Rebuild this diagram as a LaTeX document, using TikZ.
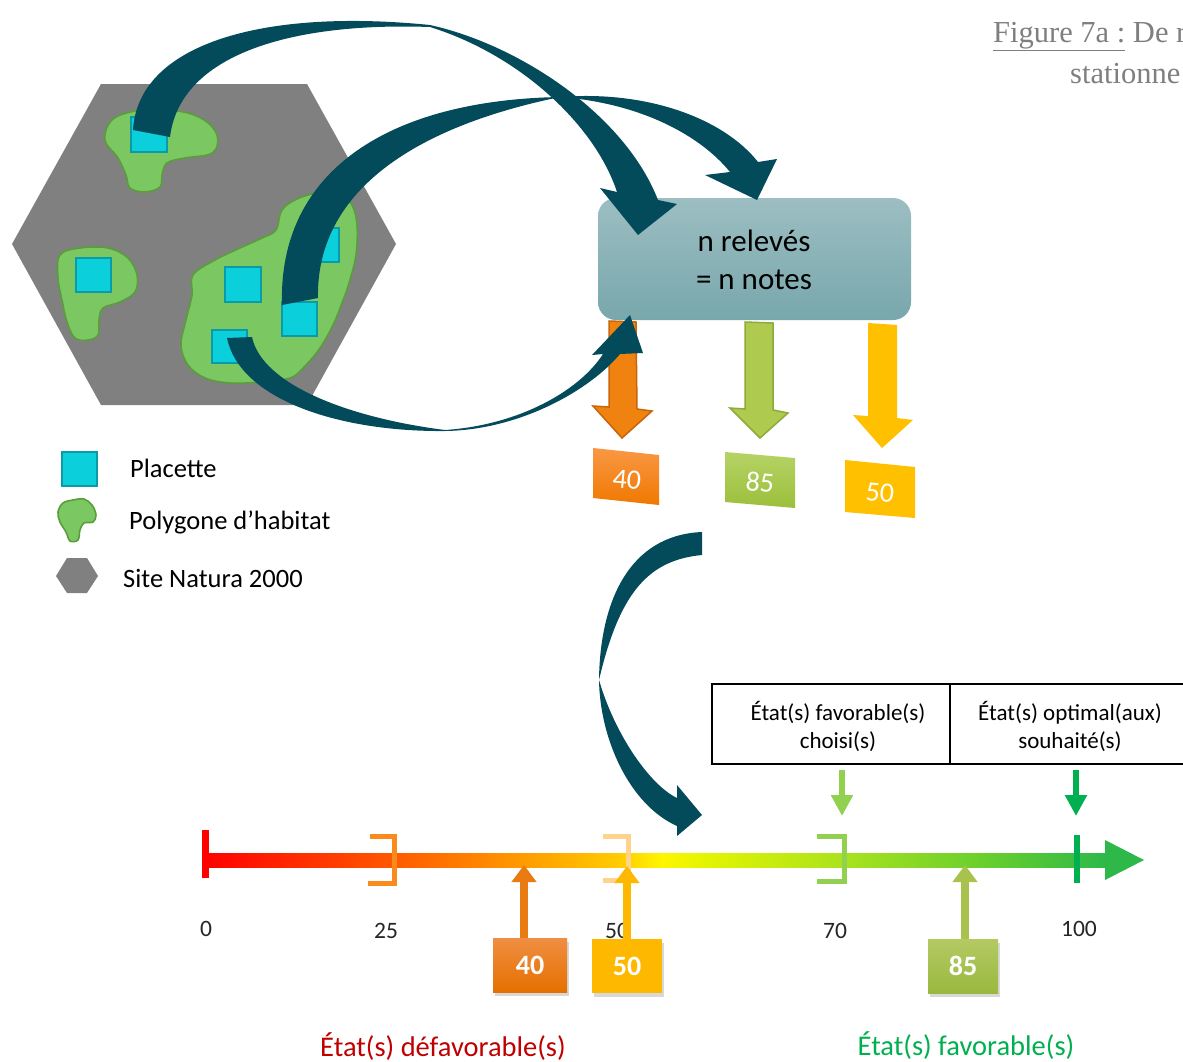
\documentclass[tikz,border=0pt]{standalone}
\usepackage{fontspec}
\setmainfont{Carlito}
\newfontfamily\titlefont{Liberation Serif}
\usetikzlibrary{arrows.meta,shadows}
\newcommand\myfs[1]{\fontsize{#1}{#1}\selectfont}
\definecolor{hexgrey}{HTML}{808080}
\definecolor{blobfill}{HTML}{7BC862}
\definecolor{blobline}{HTML}{5A9E3C}
\definecolor{sqfill}{HTML}{0BCFDA}
\definecolor{sqline}{HTML}{0A9BA8}
\definecolor{tealarrow}{HTML}{034B5A}
\definecolor{boxtop}{HTML}{9CBEC2}
\definecolor{boxbot}{HTML}{78A7AC}
\definecolor{orgA}{HTML}{F0820F}
\definecolor{orgB}{HTML}{C8650A}
\definecolor{grnA}{HTML}{AECB4F}
\definecolor{grnB}{HTML}{8FAA3A}
\definecolor{yelA}{HTML}{FFC000}
\definecolor{v40top}{HTML}{F99845}
\definecolor{v40bot}{HTML}{F07800}
\definecolor{v85top}{HTML}{B5D366}
\definecolor{v85bot}{HTML}{9CBF3B}
\definecolor{sc0}{HTML}{FF0000}
\definecolor{sc1}{HTML}{FF5500}
\definecolor{sc2}{HTML}{FF9A00}
\definecolor{sc3}{HTML}{FFCC00}
\definecolor{sc4}{HTML}{FFF500}
\definecolor{sc5}{HTML}{E5F500}
\definecolor{sc6}{HTML}{A8E21E}
\definecolor{sc7}{HTML}{60CC30}
\definecolor{sc8}{HTML}{2EB84A}
\definecolor{brk25}{HTML}{FA8A1E}
\definecolor{brk50}{HTML}{FFD38C}
\definecolor{brk70}{HTML}{92D050}
\definecolor{tick100}{HTML}{00B050}
\definecolor{b40top}{HTML}{F08E42}
\definecolor{b40bot}{HTML}{E57000}
\definecolor{b50}{HTML}{FFB800}
\definecolor{b85top}{HTML}{B3CA63}
\definecolor{b85bot}{HTML}{9AB83F}
\definecolor{up40}{HTML}{E87B12}
\definecolor{up50}{HTML}{FFB800}
\definecolor{up85}{HTML}{A9C24E}
\definecolor{lightgrn}{HTML}{92D050}
\definecolor{darkgrn}{HTML}{00B050}
\definecolor{badred}{HTML}{C00000}
\definecolor{titlegrey}{HTML}{7F7F7F}
\definecolor{numgrey}{HTML}{262626}
\pgfdeclarehorizontalshading{scalebar}{100bp}{color(0bp)=(sc0); color(25bp)=(sc0); color(35bp)=(sc1); color(42.5bp)=(sc2); color(48bp)=(sc3); color(50.3bp)=(sc4); color(52.5bp)=(sc5); color(60.6bp)=(sc6); color(69.2bp)=(sc7); color(75bp)=(sc8); color(100bp)=(sc8)}
\begin{document}
\begin{tikzpicture}[x=1pt,y=-1pt,
  sq/.style={fill=sqfill,draw=sqline,line width=1.3},
  blob/.style={fill=blobfill,draw=blobline,line width=1.6},
  tealshape/.style={fill=tealarrow},
  txt/.style={inner sep=0,anchor=base},
  ctxt/.style={inner sep=0,anchor=center},
  valbox/.style={inner sep=0,minimum height=54,text=white,font=\myfs{28}\bfseries,
     drop shadow={shadow xshift=2pt,shadow yshift=-4pt,opacity=0.3}},
  cell/.style={draw=black,line width=2,minimum height=80,inner sep=0},
  bracket/.style={line width=5},
  uparrow/.style={line width=8,-{Triangle[width=24pt,length=17pt]}},
  smalldown/.style={line width=6,-{Triangle[width=21pt,length=21pt]}}]
\useasboundingbox (0,0) rectangle (1183,1061);
\fill[white] (0,0) rectangle (1183,1061);

% title (clipped at the right edge)
\node[txt,anchor=base west,text=titlegrey,font=\titlefont\myfs{30.5}] (title1) at (993,42) {\underline{Figure 7a :} De r};
\node[txt,anchor=base west,text=titlegrey,font=\titlefont\myfs{30.5}] (title2) at (1070,83) {stationne};

% site hexagon
\fill[hexgrey] (101,84) -- (307,84) -- (396,244) -- (307,405) -- (101,405) -- (12,244) -- cycle;
% habitat polygons
\draw[blob] plot[smooth cycle,tension=0.6] coordinates {(105,140) (112,120) (135,111) (162,110) (188,113) (207,122) (217,135) (216,149) (207,155) (185,158) (167,163) (162,175) (160,187) (145,192) (130,188) (126,175) (118,158)};
\draw[blob] plot[smooth cycle,tension=0.6] coordinates {(60,255) (80,248) (108,248) (128,258) (137,275) (135,292) (120,302) (103,308) (99,320) (98,335) (88,340) (75,338) (67,322) (62,300) (58,278)};
\draw[blob] plot[smooth cycle,tension=0.6] coordinates {(193,275) (215,260) (240,248) (262,238) (276,230) (282,210) (297,199) (318,193) (340,194) (352,205) (357,225) (356,255) (349,283) (342,303) (333,325) (320,348) (305,366) (290,378) (260,382) (230,383) (205,378) (188,365) (181,345) (186,320) (192,295)};
% plots
\draw[sq] (131,117) rectangle (167,152);
\draw[sq] (76,258) rectangle (111,292);
\draw[sq] (225,267) rectangle (261,302);
\draw[sq] (282,302) rectangle (317,336);
\draw[sq] (305,228) rectangle (339,262);
\draw[sq] (212,330) rectangle (247,363);

% legend
\draw[sq] (62,452) rectangle (97,486);
\draw[blob] plot[smooth cycle,tension=0.6] coordinates {(63,503) (73,500) (84,499) (92,505) (96,515) (93,522) (84,523) (80,530) (78,540) (70,541) (66,532) (60,522) (58,512)};
\fill[hexgrey] (56,576) -- (67,558) -- (87,558) -- (98,576) -- (87,593) -- (67,593) -- cycle;
\node[txt,anchor=base west,font=\myfs{26.5}] (lg1) at (130,477) {Placette};
\node[txt,anchor=base west,font=\myfs{26.5}] (lg2) at (129,529) {Polygone d’habitat};
\node[txt,anchor=base west,font=\myfs{26.5}] (lg3) at (123,587) {Site Natura 2000};

% n relevés box
\node[rounded corners=18,top color=boxtop,bottom color=boxbot,minimum width=313,minimum height=122,inner sep=0] (relev) at (754.5,259) {};
\node[txt,font=\myfs{31}] (r1) at (754,251) {n relevés};
\node[txt,font=\myfs{31}] (r2) at (754,289) {= n notes};

% down arrows
\filldraw[fill=orgA,draw=orgB,line width=1.5] (609,321) -- (636,322) -- (637,409) -- (652,411) -- (622,438) -- (593,406) -- (609,407) -- cycle;
\filldraw[fill=grnA,draw=grnB,line width=1.5] (745,322) -- (773,323) -- (773,410) -- (788,413) -- (760,438) -- (730,408) -- (745,409) -- cycle;
\fill[yelA] (868,323) -- (897,325) -- (897,418) -- (913,420) -- (882,448) -- (853,415) -- (868,416) -- cycle;

% value cards
\shade[top color=v40top,bottom color=v40bot] (593,448) -- (659,455) -- (659,505) -- (593,498) -- cycle;
\shade[top color=v85top,bottom color=v85bot] (725,452) -- (795,458) -- (795,508) -- (725,502) -- cycle;
\fill[yelA] (845,460) -- (915,467) -- (915,518) -- (845,512) -- cycle;
\node[ctxt,text=white,rotate=-5,font=\myfs{28}] (n40) at (627,480) {40};
\node[ctxt,text=white,rotate=-5,font=\myfs{28}] (n85) at (760,482) {85};
\node[ctxt,text=white,rotate=-5,font=\myfs{28}] (n50) at (880,493) {50};

% curved arrow A
\fill[tealshape] (133,130) .. controls (138,45) and (260,8) .. (430,25)
  .. controls (520,45) and (625,115) .. (658,200)
  -- (677,204) -- (638,235) -- (600,188) -- (617,192)
  .. controls (595,125) and (520,55) .. (430,27)
  .. controls (290,22) and (180,55) .. (170,137) -- cycle;
% curved arrow B
\fill[tealshape] (282,305) .. controls (278,170) and (390,100) .. (560,97)
  .. controls (650,90) and (725,120) .. (758,162)
  -- (777,159) -- (757,200) -- (705,175) -- (730,172)
  .. controls (700,135) and (640,103) .. (560,97)
  .. controls (400,130) and (316,200) .. (318,298) -- cycle;
% curved arrow C
\fill[tealshape] (227,338) .. controls (240,400) and (340,432) .. (445,431)
  .. controls (520,430) and (590,390) .. (620,354)
  -- (643,353) -- (630,315) -- (592,355) -- (603,354)
  .. controls (580,390) and (520,425) .. (445,430)
  .. controls (350,418) and (262,385) .. (252,337) -- cycle;
% curved arrow D
\fill[tealshape] (702,532) .. controls (630,535) and (600,600) .. (599,680)
  .. controls (600,740) and (630,805) .. (677,826)
  -- (677,836) -- (702,815) -- (677,785) -- (677,798)
  .. controls (650,785) and (615,735) .. (599,680)
  .. controls (620,590) and (650,560) .. (702,555) -- cycle;

% table
\node[cell,minimum width=238] (cell1) at (831,724) {};
\node[cell,minimum width=240] (cell2) at (1070,724) {};
\node[txt,font=\myfs{23}] (c1a) at (838,720) {État(s) favorable(s)};
\node[txt,font=\myfs{23}] (c1b) at (838,748) {choisi(s)};
\node[txt,font=\myfs{23}] (c2a) at (1070,720) {État(s) optimal(aux)};
\node[txt,font=\myfs{23}] (c2b) at (1070,748) {souhaité(s)};
\coordinate (d1s) at (842,770);
\coordinate (d1e) at (842,816);
\coordinate (d2s) at (1076,770);
\coordinate (d2e) at (1076,816);
\draw[smalldown,lightgrn] (d1s) -- (d1e);
\draw[smalldown,darkgrn] (d2s) -- (d2e);

% scale bar
\shade[shading=scalebar] (205,853) rectangle (1106,867);
\fill[sc8] (1105,840) -- (1144,860) -- (1105,880) -- cycle;
\fill[sc0] (202,830) rectangle (209,878);
\draw[bracket,brk25] (370,836) -- (394,836) -- (394,883) -- (368,883);
\draw[bracket,brk50] (603,836) -- (628,836) -- (628,880) -- (603,880);
\draw[bracket,brk70] (817,836) -- (844,836) -- (844,881) -- (817,881);
\draw[line width=6,tick100] (1077,835) -- (1077,883);

\node[txt,text=numgrey,font=\myfs{23.5}] (s0) at (206,936) {0};
\node[txt,text=numgrey,font=\myfs{23.5}] (s25) at (386,938) {25};
\node[txt,text=numgrey,font=\myfs{23.5}] (s50) at (617,938) {50};
\node[txt,text=numgrey,font=\myfs{23.5}] (s70) at (835,938) {70};
\node[txt,text=numgrey,font=\myfs{23.5}] (s100) at (1079,936) {100};

% measured values
\node[valbox,minimum width=74,top color=b40top,bottom color=b40bot] (b40) at (530,965) {40};
\node[valbox,minimum width=70,fill=b50] (b50) at (627,966) {50};
\node[valbox,minimum width=70,top color=b85top,bottom color=b85bot] (b85) at (963,966) {85};
\coordinate (p40) at (524,865);
\coordinate (p50) at (627,866);
\coordinate (p85) at (965,865);
\draw[uparrow,up40] ([xshift=-6pt]b40.north) -- (p40);
\draw[uparrow,up50] (b50.north) -- (p50);
\draw[uparrow,up85] ([xshift=2pt]b85.north) -- (p85);

% state labels
\node[txt,text=badred,font=\myfs{28.5}] (bad) at (443,1056) {État(s) défavorable(s)};
\node[txt,text=darkgrn,font=\myfs{28.5}] (good) at (966,1055) {État(s) favorable(s)};
\end{tikzpicture}
\end{document}
